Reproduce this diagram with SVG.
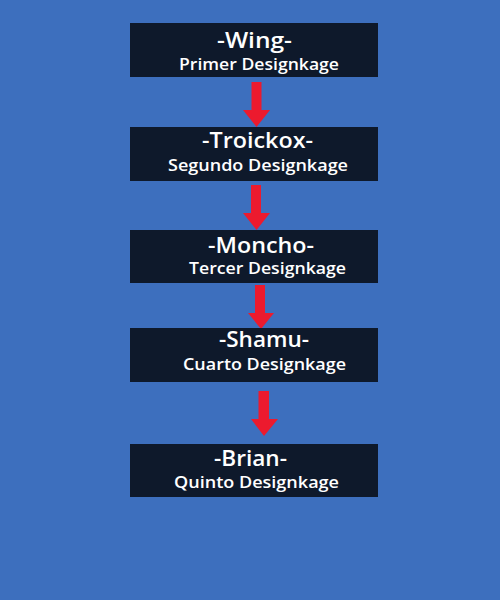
<svg xmlns="http://www.w3.org/2000/svg" width="500" height="600" viewBox="0 0 500 600">
<style>
.box{fill:#0e192b}
.t{font-family:"Open Sans","DejaVu Sans",sans-serif;font-weight:600;fill:#ffffff;text-anchor:middle}
.h{font-size:22px}
.s{font-size:16px}
.arr{fill:#ec1a2e}
</style>
<rect width="500" height="600" fill="#3d6fbe"/>
<g id="connectors">
<polygon class="arr" points="251.5,82 261.5,82 261.5,110 270,110 256.5,127 243,110 251.5,110"/>
<polygon class="arr" points="251,185 261,185 261,213 270,213 256.5,230 243,213 251,213"/>
<polygon class="arr" points="255,285 265,285 265,313 274,313 261,329 248,313 255,313"/>
<polygon class="arr" points="258.5,391 269,391 269,419 278,419 264,436 251,419 258.5,419"/>
</g>
<g id="wing">
<rect class="box" x="130" y="23" width="248" height="54"/>
<text class="t h" x="254.5" y="48" textLength="75" lengthAdjust="spacingAndGlyphs">-Wing-</text>
<text class="t s" x="259" y="70" textLength="160" lengthAdjust="spacingAndGlyphs">Primer Designkage</text>
</g>
<g id="troickox">
<rect class="box" x="130" y="127" width="248" height="54"/>
<text class="t h" x="257.5" y="148" textLength="111" lengthAdjust="spacingAndGlyphs">-Troickox-</text>
<text class="t s" x="258" y="171" textLength="180" lengthAdjust="spacingAndGlyphs">Segundo Designkage</text>
</g>
<g id="moncho">
<rect class="box" x="130" y="230" width="248" height="53"/>
<text class="t h" x="261" y="253" textLength="106" lengthAdjust="spacingAndGlyphs">-Moncho-</text>
<text class="t s" x="267.5" y="274" textLength="157" lengthAdjust="spacingAndGlyphs">Tercer Designkage</text>
</g>
<g id="shamu">
<rect class="box" x="130" y="328" width="248" height="54"/>
<text class="t h" x="264" y="347" textLength="90" lengthAdjust="spacingAndGlyphs">-Shamu-</text>
<text class="t s" x="264.5" y="370" textLength="163" lengthAdjust="spacingAndGlyphs">Cuarto Designkage</text>
</g>
<g id="brian">
<rect class="box" x="130" y="444" width="248" height="53"/>
<text class="t h" x="250.5" y="466" textLength="73" lengthAdjust="spacingAndGlyphs">-Brian-</text>
<text class="t s" x="256.5" y="488" textLength="165" lengthAdjust="spacingAndGlyphs">Quinto Designkage</text>
</g>
</svg>
